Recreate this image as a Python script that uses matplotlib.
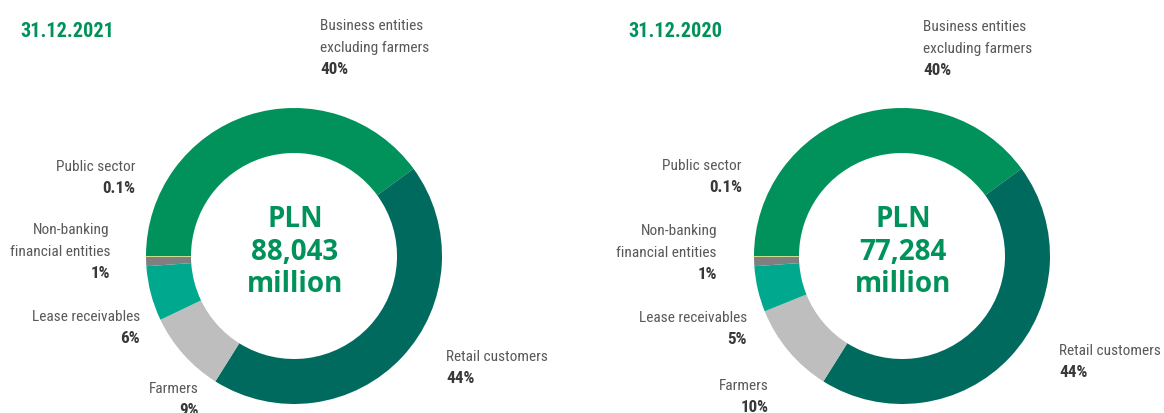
import matplotlib
matplotlib.use("Agg")
import matplotlib.pyplot as plt
from matplotlib.font_manager import FontProperties, fontManager
from matplotlib.textpath import TextPath

# Loan portfolio structure by customer segment
categories = [
    "Business entities\nexcluding farmers",
    "Retail customers",
    "Farmers",
    "Lease receivables",
    "Non-banking\nfinancial entities",
    "Public sector",
]
shares_2021 = [40, 44, 9, 6, 1, 0.1]
shares_2020 = [40, 44, 10, 5, 1, 0.1]
dates = ["31.12.2021", "31.12.2020"]
totals = ["88,043", "77,284"]

colors = ["#00925A", "#006A5E", "#BEBEBE", "#00A98D", "#7F7F7F", "#C5E07A"]

W, H = 1164, 414
fig = plt.figure(figsize=(W / 100, H / 100), dpi=100)
fig.patch.set_facecolor("white")

GREEN = "#00925A"
LABEL_C = "#595959"
PCT_C = "#383838"

# ---- font selection: a narrow sans for labels, a sturdy sans for the centre
STRETCH_RANK = {"ultra-condensed": 1, "extra-condensed": 2, "condensed": 3,
                "semi-condensed": 4, "normal": 5, "semi-expanded": 6,
                "expanded": 7, "extra-expanded": 8, "ultra-expanded": 9}
STRETCH_NUM = {50: 1, 62: 2, 75: 3, 87: 4, 100: 5}
WEIGHTS = {"ultralight": 200, "light": 300, "normal": 400, "regular": 400,
           "book": 400, "medium": 500, "roman": 400, "semibold": 600,
           "demibold": 600, "demi": 600, "bold": 700, "heavy": 800,
           "extra bold": 800, "black": 900}
FAMILY_PREF = ["Liberation Sans Narrow", "Roboto Condensed", "Noto Sans",
               "Open Sans", "Roboto", "DejaVu Sans", "Liberation Sans"]


def _rank(entry):
    s = entry.stretch
    if isinstance(s, str):
        s = STRETCH_RANK.get(s, 5)
    else:
        s = STRETCH_NUM.get(int(s), 5)
    fn = entry.fname.lower().replace("-", "").replace("_", "")
    if "narrow" in fn or entry.name.endswith("Narrow"):
        s = min(s, 3)
    elif "semicondensed" in fn:
        s = min(s, 4)
    elif "extracondensed" in fn:
        s = min(s, 2)
    elif "condensed" in fn:
        s = min(s, 3)
    return s


def _weight(entry):
    w = entry.weight
    if isinstance(w, str):
        w = WEIGHTS.get(w.lower(), 400)
    return int(w)


def narrow_font(bold, target=3):
    want = 700 if bold else 400
    best, best_key = None, None
    for e in fontManager.ttflist:
        if e.style != "normal" or e.name not in FAMILY_PREF:
            continue
        if abs(_weight(e) - want) > 50:
            continue
        r = _rank(e)
        key = (abs(r - target), r, FAMILY_PREF.index(e.name))
        if best_key is None or key < best_key:
            best, best_key = e, key
    if best is None:
        return FontProperties(family="DejaVu Sans",
                              weight="bold" if bold else "normal")
    return FontProperties(fname=best.fname)


def fitted_size(fp, sample, width_px, base=12.0):
    """Font size (pt) at which `sample` spans roughly width_px pixels."""
    w_pt = TextPath((0, 0), sample, size=base, prop=fp).get_extents().width
    return base * (width_px * 72 / 100) / max(w_pt, 1e-6)


label_fp = narrow_font(False)
pct_fp = narrow_font(True)
date_fp = narrow_font(True, target=2)
center_fp = FontProperties(family=["Open Sans", "DejaVu Sans"], weight="bold")

label_size = min(12.5, fitted_size(label_fp, "Retail customers", 100))
pct_size = min(12.5, fitted_size(pct_fp, "40%", 27))
date_size = min(19.0, fitted_size(date_fp, "31.12.2021", 90))
center_size = min(20.0, fitted_size(center_fp, "88,043", 86))


def ftext(x, y, s, fp, size, **kw):
    """Place text using pixel coordinates measured from the top-left corner."""
    p = fp.copy()
    p.set_size(size)
    return fig.text(x / W, 1 - y / H, s, fontproperties=p, **kw)


def donut(cx, cy, r, values):
    ax = fig.add_axes([(cx - r) / W, 1 - (cy + r) / H, 2 * r / W, 2 * r / H])
    ax.pie(values, colors=colors, startangle=180, counterclock=False,
           radius=1.0, wedgeprops=dict(width=0.304, linewidth=0))
    ax.set_xlim(-1, 1)
    ax.set_ylim(-1, 1)
    ax.set_aspect("equal")
    ax.axis("off")


def pct(v):
    return f"{v:g}%"


# label anchors per panel: (x, first baseline, alignment)
panels = [
    dict(cx=294, cy=257, date_x=20, shares=shares_2021, total=totals[0],
         anchors=[(320, 30, "left"), (446, 361, "left"), (199, 393, "right"),
                  (140, 321, "right"), (110, 234, "right"), (135, 171, "right")]),
    dict(cx=902, cy=257, date_x=628, shares=shares_2020, total=totals[1],
         anchors=[(923, 31, "left"), (1059, 355, "left"), (769, 390, "right"),
                  (747, 322, "right"), (717, 235, "right"), (742, 170, "right")]),
]

LINE = 22
for date, p in zip(dates, panels):
    donut(p["cx"], p["cy"], 148, p["shares"])
    ftext(p["date_x"], 37, date, date_fp, date_size, color=GREEN,
          ha="left", va="baseline")
    for (x, y0, ha), name, v in zip(p["anchors"], categories, p["shares"]):
        lines = name.split("\n")
        for i, ln in enumerate(lines):
            ftext(x, y0 + i * LINE, ln, label_fp, label_size,
                  color=LABEL_C, ha=ha, va="baseline")
        ftext(x, y0 + len(lines) * LINE, pct(v), pct_fp, pct_size,
              color=PCT_C, ha=ha, va="baseline")
    for i, s in enumerate(["PLN", p["total"], "million"]):
        ftext(p["cx"] + 1, 227 + i * 32.5, s, center_fp, center_size,
              color=GREEN, ha="center", va="baseline")

fig.savefig("out.png", dpi=100, facecolor="white")
